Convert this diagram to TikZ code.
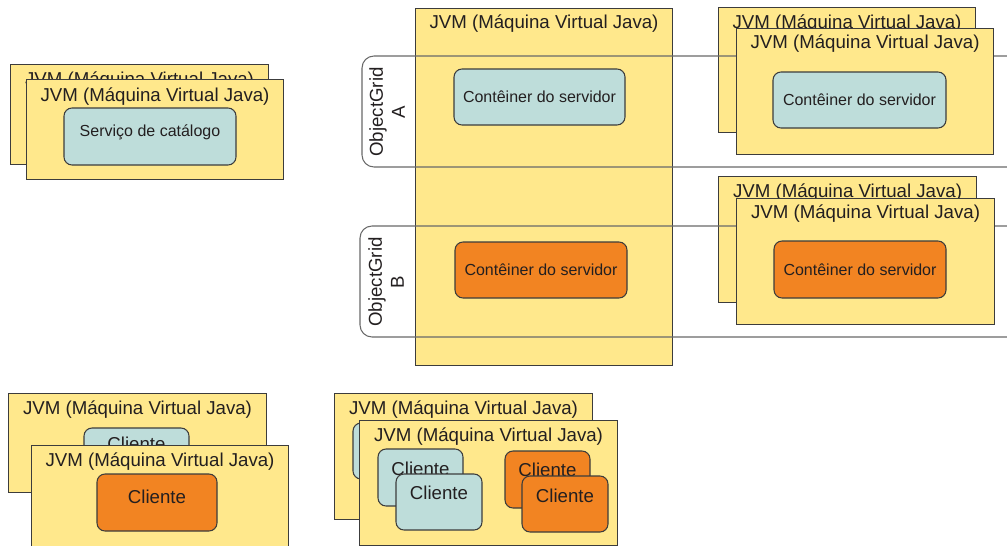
\documentclass[tikz,border=0pt]{standalone}
\usepackage{fontspec}
\setmainfont{Liberation Sans}
\newcommand{\px}{0.75pt}
\definecolor{jvmfill}{RGB}{255,232,140}
\definecolor{jvmline}{RGB}{60,60,60}
\definecolor{contteal}{RGB}{190,221,218}
\definecolor{contorange}{RGB}{242,132,34}
\definecolor{bandline}{RGB}{105,105,105}
\definecolor{txtgray}{RGB}{35,31,32}
\begin{document}
\begin{tikzpicture}[x=0.75pt,y=-0.75pt]
\tikzstyle{jvmbox} = [draw=jvmline, fill=jvmfill, line width=0.8pt, anchor=north west, inner sep=0pt] %caixa JVM
\tikzstyle{jvmtext} = [text=txtgray, font=\fontsize{14}{16.5}\selectfont, inner sep=0pt]
\tikzstyle{contbox} = [draw=jvmline, line width=0.8pt, rounded corners=6pt, inner sep=0pt, text=txtgray]
\tikzstyle{tealbox} = [contbox, fill=contteal]
\tikzstyle{orangebox} = [contbox, fill=contorange]
\tikzstyle{servtext} = [font=\fontsize{12}{14}\selectfont]
\tikzstyle{clitext} = [font=\fontsize{14}{16.5}\selectfont]
\tikzstyle{band} = [draw=bandline, line width=0.8pt, rounded corners=9pt]
\tikzstyle{gridtext} = [text=txtgray, font=\fontsize{14}{16.5}\selectfont, rotate=90, align=center, inner sep=0pt]

\useasboundingbox (0,0) rectangle (1007,546);

%JVMs de tras
\node[jvmbox, minimum width=258*\px, minimum height=100*\px] (catBack) at (10,64) {};
\node[jvmtext] (catBackLbl) at ([yshift=-17*\px]catBack.north) {JVM (Máquina Virtual Java)};
\node[jvmbox, minimum width=257*\px, minimum height=125*\px] (rtBack) at (718,7) {};
\node[jvmtext] (rtBackLbl) at ([yshift=-17*\px]rtBack.north) {JVM (Máquina Virtual Java)};
\node[jvmbox, minimum width=258*\px, minimum height=126*\px] (rbBack) at (718,176) {};
\node[jvmtext] (rbBackLbl) at ([yshift=-17*\px]rbBack.north) {JVM (Máquina Virtual Java)};
\node[jvmbox, minimum width=258*\px, minimum height=99*\px] (blBack) at (8,393) {};
\node[jvmtext] (blBackLbl) at ([yshift=-17*\px]blBack.north) {JVM (Máquina Virtual Java)};
\node[tealbox, clitext, minimum width=105*\px, minimum height=32*\px] (blCliBack) at (136.5,444) {Cliente};
\node[jvmbox, minimum width=258*\px, minimum height=126*\px] (bmBack) at (334,393) {};
\node[jvmtext] (bmBackLbl) at ([yshift=-17*\px]bmBack.north) {JVM (Máquina Virtual Java)};
\node[tealbox, minimum width=86*\px, minimum height=56*\px] (bmCliHidden) at (396,451) {};

%JVM central
\node[jvmbox, minimum width=257*\px, minimum height=357*\px] (jvmCenter) at (415,8) {};
\node[jvmtext] (jvmCenterLbl) at ([yshift=-16*\px]jvmCenter.north) {JVM (Máquina Virtual Java)};
\node[tealbox, servtext, minimum width=171*\px, minimum height=56*\px] (contA) at (539.5,97) {Contêiner do servidor};
\node[orangebox, servtext, minimum width=172*\px, minimum height=56*\px] (contB) at (541,270) {Contêiner do servidor};

%faixas ObjectGrid
\draw[band] (1007,56) -- (362,56) -- (362,167) -- (1007,167);
\node[gridtext] (gridA) at (387,112) {ObjectGrid\\A};
\draw[band] (1007,226) -- (360,226) -- (360,337) -- (1007,337);
\node[gridtext] (gridB) at (386,282) {ObjectGrid\\B};

%JVMs da frente
\node[jvmbox, minimum width=257*\px, minimum height=100*\px] (catFront) at (26,79) {};
\node[jvmtext] (catFrontLbl) at ([yshift=-18*\px]catFront.north) {JVM (Máquina Virtual Java)};
\node[tealbox, servtext, minimum width=172*\px, minimum height=57*\px, text depth=9.4pt] (catSvc) at (150,136.5) {Serviço de catálogo};

\node[jvmbox, minimum width=257*\px, minimum height=126*\px] (rtFront) at (736,28) {};
\node[jvmtext] (rtFrontLbl) at ([yshift=-16*\px]rtFront.north) {JVM (Máquina Virtual Java)};
\node[tealbox, servtext, minimum width=173*\px, minimum height=56*\px] (contRA) at (859.5,100) {Contêiner do servidor};

\node[jvmbox, minimum width=258*\px, minimum height=126*\px] (rbFront) at (736,198) {};
\node[jvmtext] (rbFrontLbl) at ([yshift=-16*\px]rbFront.north) {JVM (Máquina Virtual Java)};
\node[orangebox, servtext, minimum width=172*\px, minimum height=57*\px] (contRB) at (860,269.5) {Contêiner do servidor};

\node[jvmbox, minimum width=257*\px, minimum height=101*\px] (blFront) at (31,445) {};
\node[jvmtext] (blFrontLbl) at ([yshift=-17*\px]blFront.north) {JVM (Máquina Virtual Java)};
\node[orangebox, clitext, minimum width=120*\px, minimum height=57*\px, text depth=8.2pt] (blCli) at (157,502.5) {Cliente};

\node[jvmbox, minimum width=258*\px, minimum height=125*\px] (bmFront) at (359,420) {};
\node[jvmtext] (bmFrontLbl) at ([yshift=-17*\px]bmFront.north) {JVM (Máquina Virtual Java)};
\node[tealbox, clitext, minimum width=85*\px, minimum height=57*\px, text depth=12.75pt] (bmCliT1) at (420.5,477.5) {Cliente};
\node[tealbox, clitext, minimum width=86*\px, minimum height=56*\px, text depth=13.5pt] (bmCliT2) at (439,502) {Cliente};
\node[orangebox, clitext, minimum width=85*\px, minimum height=57*\px, text depth=14pt] (bmCliO1) at (547.5,479.5) {Cliente};
\node[orangebox, clitext, minimum width=86*\px, minimum height=56*\px, text depth=12.75pt] (bmCliO2) at (565,504) {Cliente};
\end{tikzpicture}
\end{document}
